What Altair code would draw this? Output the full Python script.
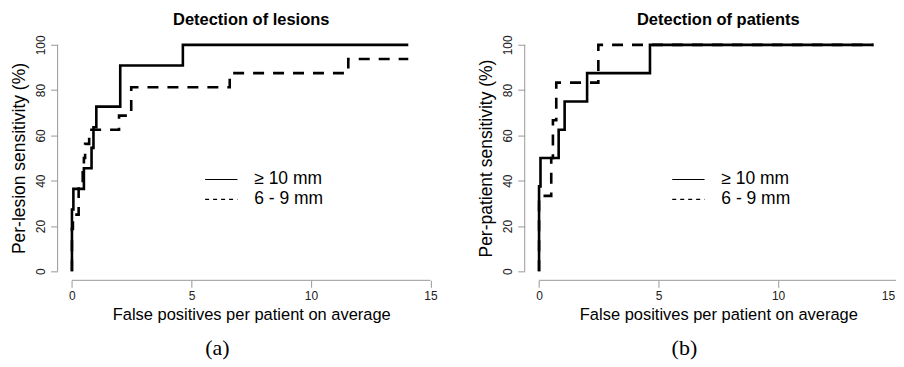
import altair as alt
import pandas as pd

# ---------------- data ----------------
series = ["\u2265 10 mm", "6 - 9 mm"]

lesion_10_fp = [0, 0, 0.06, 0.5, 0.82, 0.9, 1.02, 2.02, 4.64, 14.07]
lesion_10_sens = [0, 27.3, 36.4, 45.5, 54.5, 63.6, 72.7, 90.9, 100, 100]
lesion_69_fp = [0, 0, 0.04, 0.28, 0.45, 0.5, 0.55, 0.72, 1.97, 2.48, 6.6, 11.56, 14.07]
lesion_69_sens = [0, 18.75, 25, 37.5, 43.75, 50, 56.25, 62.5, 68.75, 81.25, 87.5, 93.75, 93.75]

patient_10_fp = [0, 0, 0.06, 0.82, 1.07, 2.01, 4.64, 13.99]
patient_10_sens = [0, 37.5, 50, 62.5, 75, 87.5, 100, 100]
patient_69_fp = [0, 0, 0.51, 0.58, 0.72, 2.48, 13.99]
patient_69_sens = [0, 33.3, 50, 66.7, 83.3, 100, 100]

x_ticks = [0, 5, 10, 15]
y_ticks = [0, 20, 40, 60, 80, 100]

titles = ["Detection of lesions", "Detection of patients"]
y_titles = ["Per-lesion sensitivity (%)", "Per-patient sensitivity (%)"]
x_title = "False positives per patient on average"
captions = ["(a)", "(b)"]

# ---------------- styling ----------------
W, H = 388, 245
SANS = "Liberation Sans"
AXIS_GREY = "#999999"


def make_df(fp10, s10, fp69, s69):
    rows = []
    for i, (x, y) in enumerate(zip(fp10, s10)):
        rows.append({"fp": x, "sens": y, "series": series[0], "idx": i})
    for i, (x, y) in enumerate(zip(fp69, s69)):
        rows.append({"fp": x, "sens": y, "series": series[1], "idx": i})
    return pd.DataFrame(rows)


def panel(df, title, ytitle, caption, flush_last=False):
    xs = alt.Scale(domain=[-0.6, 15.6], nice=False, zero=False)
    ys = alt.Scale(domain=[-4, 104], nice=False, zero=False)
    extra = {}
    if flush_last:
        test = f"datum.value == {x_ticks[-1]}"
        extra = dict(
            labelAlign={"condition": {"test": test, "value": "right"}, "value": "center"},
            labelOffset={"condition": {"test": test, "value": -3}, "value": 0},
        )
    xaxis = alt.Axis(values=x_ticks, title=x_title, domain=False, grid=False,
                     tickSize=7, tickColor=AXIS_GREY, labelFont=SANS, labelFontSize=12,
                     labelColor="#222222", labelPadding=3, titleFont=SANS,
                     titleFontSize=16.5, titleFontWeight="normal", titleColor="black",
                     titlePadding=5, labelFlush=False, **extra)
    yaxis = alt.Axis(values=y_ticks, title=ytitle, domain=False, grid=False,
                     tickSize=7, tickColor=AXIS_GREY, labelFont=SANS, labelFontSize=12,
                     labelColor="#222222", labelPadding=3, labelAngle=-90,
                     titleFont=SANS, titleFontSize=17.5, titleFontWeight="normal",
                     titleColor="black", titlePadding=6.5, labelFlush=False)
    X = alt.X("fp:Q", scale=xs, axis=xaxis)
    Y = alt.Y("sens:Q", scale=ys, axis=yaxis)

    lines = alt.Chart(df).mark_line(interpolate="step-after", strokeWidth=2.6,
                                    color="black").encode(
        x=X, y=Y,
        strokeDash=alt.StrokeDash("series:N",
                                  scale=alt.Scale(domain=series, range=[[1, 0], [11, 9]]),
                                  legend=None),
        order="idx:Q",
    )

    legend_layer = alt.Chart(df).transform_filter("false").mark_line(
        color="black", strokeWidth=1.2).encode(
        x=X, y=Y,
        strokeDash=alt.StrokeDash(
            "series:N",
            scale=alt.Scale(domain=series, range=[[1, 0], [4, 4]]),
            legend=alt.Legend(orient="none", legendX=154, legendY=134, title=None,
                              symbolType="M-1.8,0H1.8", symbolSize=324,
                              symbolStrokeWidth=1.2, symbolStrokeColor="black",
                              symbolFillColor="transparent",
                              labelFont=SANS, labelFontSize=17.5, labelColor="black",
                              labelOffset=23, rowPadding=1, padding=0,
                              labelExpr="datum.index == 0 ? '\u00a0' + datum.label : datum.label"),
        ),
    )

    one = pd.DataFrame({"k": [0]})
    x_rule = alt.Chart(one).mark_rule(color=AXIS_GREY, strokeWidth=1).encode(
        x=alt.XDatum(x_ticks[0], scale=xs, axis=xaxis),
        x2=alt.X2Datum(x_ticks[-1]),
        y=alt.value(H),
    )
    y_rule = alt.Chart(one).mark_rule(color=AXIS_GREY, strokeWidth=1).encode(
        y=alt.YDatum(y_ticks[0], scale=ys, axis=yaxis),
        y2=alt.Y2Datum(y_ticks[-1]),
        x=alt.value(0),
    )
    cap = alt.Chart(one).mark_text(font="Liberation Serif", fontSize=22,
                                   color="black", baseline="middle",
                                   align="center").encode(
        x=alt.value(W / 2 - 34), y=alt.value(313), text=alt.value(caption))

    return alt.layer(x_rule, y_rule, lines, legend_layer, cap).resolve_scale(
        strokeDash="independent"
    ).properties(
        width=W, height=H,
        title=alt.Title(title, fontSize=16.5, font=SANS, fontWeight="bold",
                        offset=6, anchor="middle", color="black"),
    )


left = panel(make_df(lesion_10_fp, lesion_10_sens, lesion_69_fp, lesion_69_sens),
             titles[0], y_titles[0], captions[0])
right = panel(make_df(patient_10_fp, patient_10_sens, patient_69_fp, patient_69_sens),
              titles[1], y_titles[1], captions[1], flush_last=True)

chart = alt.hconcat(left, right, spacing=80, bounds="flush").resolve_scale(
    strokeDash="independent"
).configure_view(stroke=None).properties(
    padding={"left": 1.7, "top": 3.5, "right": -16, "bottom": 0},
    background="white",
)

chart.save("out.html", embed_options={"renderer": "svg", "actions": False})
